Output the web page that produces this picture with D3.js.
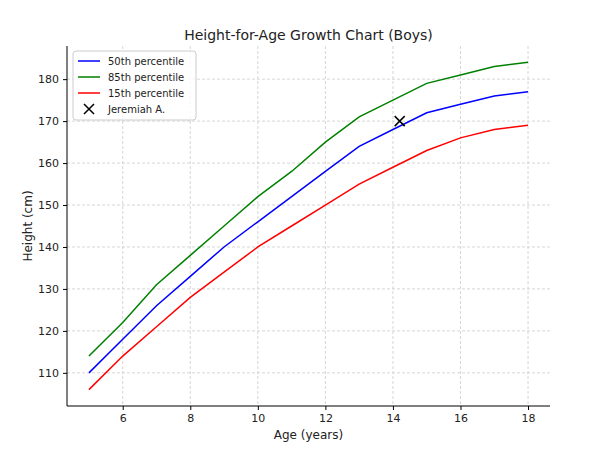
<!DOCTYPE html>
<html><head><meta charset="utf-8">
<script src="https://cdn.jsdelivr.net/npm/d3@7"></script>
<style>body{margin:0;background:#fff;font-family:"DejaVu Sans",sans-serif;}</style>
</head><body>
<script>
const ages = [5, 6, 7, 8, 9, 10, 11, 12, 13, 14, 15, 16, 17, 18];
const p50 = [110, 118, 126, 133, 140, 146, 152, 158, 164, 168, 172, 174, 176, 177];
const p85 = [114, 122, 131, 138, 145, 152, 158, 165, 171, 175, 179, 181, 183, 184];
const p15 = [106, 114, 121, 128, 134, 140, 145, 150, 155, 159, 163, 166, 168, 169];
const child = {name: 'Jeremiah A.', age: 14.2, height: 170};
const xTicks = [6, 8, 10, 12, 14, 16, 18];
const yTicks = [110, 120, 130, 140, 150, 160, 170, 180];

const W = 596, H = 459;
const m = {left: 67, right: 46, top: 46, bottom: 53};

const svg = d3.select('body').append('svg').attr('width', W).attr('height', H);

const x = d3.scaleLinear().domain([4.35, 18.65]).range([m.left, W - m.right]);
const y = d3.scaleLinear().domain([102.1, 187.9]).range([H - m.bottom, m.top]);

// grid
svg.append('g').selectAll('line').data(xTicks).join('line')
  .attr('x1', d => x(d)).attr('x2', d => x(d)).attr('y1', m.top).attr('y2', H - m.bottom)
  .attr('stroke', '#ccc').attr('stroke-dasharray', '3,2').attr('stroke-width', 0.8);
svg.append('g').selectAll('line').data(yTicks).join('line')
  .attr('y1', d => y(d)).attr('y2', d => y(d)).attr('x1', m.left).attr('x2', W - m.right)
  .attr('stroke', '#ccc').attr('stroke-dasharray', '3,2').attr('stroke-width', 0.8);

const xAxis = svg.append('g').attr('transform', 'translate(0,' + (H - m.bottom) + ')')
  .call(d3.axisBottom(x).tickValues(xTicks).tickSize(4).tickPadding(4));
const yAxis = svg.append('g').attr('transform', 'translate(' + m.left + ',0)')
  .call(d3.axisLeft(y).tickValues(yTicks).tickSize(4).tickPadding(4));
[xAxis, yAxis].forEach(a => {
  a.selectAll('text').attr('font-size', 11).attr('fill', '#222').attr('font-family', 'DejaVu Sans');
  a.select('.domain').remove();
});

// only left and bottom spines
svg.append('line').attr('x1', m.left).attr('x2', m.left).attr('y1', m.top).attr('y2', H - m.bottom).attr('stroke', '#000');
svg.append('line').attr('x1', m.left).attr('x2', W - m.right).attr('y1', H - m.bottom).attr('y2', H - m.bottom).attr('stroke', '#000');

const line = d3.line().x((d, i) => x(ages[i])).y(d => y(d));
const series = [
  {label: '50th percentile', data: p50, color: '#0000ff'},
  {label: '85th percentile', data: p85, color: '#008000'},
  {label: '15th percentile', data: p15, color: '#ff0000'}
];
series.forEach(s => {
  svg.append('path').attr('d', line(s.data)).attr('fill', 'none')
    .attr('stroke', s.color).attr('stroke-width', 1.5);
});

const cross = (g, cx, cy, r) => {
  g.append('path').attr('d', `M${cx - r},${cy - r}L${cx + r},${cy + r}M${cx - r},${cy + r}L${cx + r},${cy - r}`)
    .attr('stroke', '#000').attr('stroke-width', 1.5);
};
cross(svg, x(child.age), y(child.height), 5);

// legend
const lg = svg.append('g').attr('transform', 'translate(73,51)');
lg.append('rect').attr('width', 123).attr('height', 69).attr('rx', 3)
  .attr('fill', '#fff').attr('fill-opacity', 0.8).attr('stroke', '#ccc');
series.forEach((s, i) => {
  lg.append('line').attr('x1', 5).attr('x2', 27).attr('y1', 10 + i * 16).attr('y2', 10 + i * 16)
    .attr('stroke', s.color).attr('stroke-width', 1.5);
  lg.append('text').attr('x', 35).attr('y', 14 + i * 16).attr('font-size', 10).attr('fill', '#222').text(s.label);
});
cross(lg, 16, 58, 5);
lg.append('text').attr('x', 35).attr('y', 62).attr('font-size', 10).attr('fill', '#222').text(child.name);

svg.append('text').attr('x', (m.left + W - m.right) / 2).attr('y', 40).attr('text-anchor', 'middle')
  .attr('font-size', 14).attr('fill', '#222').text('Height-for-Age Growth Chart (Boys)');
svg.append('text').attr('x', (m.left + W - m.right) / 2).attr('y', H - 20).attr('text-anchor', 'middle')
  .attr('font-size', 12).attr('fill', '#222').text('Age (years)');
svg.append('text').attr('transform', `translate(32,${(m.top + H - m.bottom) / 2}) rotate(-90)`)
  .attr('text-anchor', 'middle').attr('font-size', 12).attr('fill', '#222').text('Height (cm)');
</script>
</body></html>
